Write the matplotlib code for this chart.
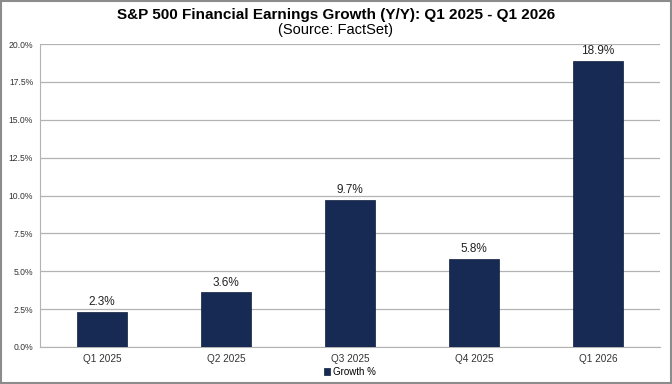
import matplotlib
matplotlib.use("Agg")
import matplotlib.pyplot as plt
from matplotlib.patches import Rectangle

categories = ["Q1 2025", "Q2 2025", "Q3 2025", "Q4 2025", "Q1 2026"]
growth = [2.3, 3.6, 9.7, 5.8, 18.9]
yticks = [0, 2.5, 5, 7.5, 10, 12.5, 15, 17.5, 20]

plt.rcParams['font.family'] = ['Liberation Sans', 'DejaVu Sans']

fig = plt.figure(figsize=(6.72, 3.84), dpi=100)
ax = fig.add_axes([40/672, 37/384, 620/672, 303/384])

bars = ax.bar(range(len(categories)), growth, width=0.4, color="#172a54",
              edgecolor="#0f1d3d", linewidth=0.5, zorder=3, label="Growth %")

for x, v in zip(range(len(categories)), growth):
    ax.text(x, v + 0.25, f"{v:.1f}%", ha="center", va="bottom", fontsize=8.5, color="#222222")

ax.set_xlim(-0.5, len(categories) - 0.5)
ax.set_ylim(0, 20)
ax.set_yticks(yticks)
ax.set_yticklabels([f"{t:.1f}%" for t in yticks], fontsize=6.2, color="#333333")
ax.set_xticks(range(len(categories)))
ax.set_xticklabels(categories, fontsize=7.2, color="#333333")
ax.tick_params(axis="both", length=0, pad=5)
ax.yaxis.grid(True, color="#b3b3b3", linewidth=0.9, zorder=0)

for side in ["top", "right"]:
    ax.spines[side].set_visible(False)
ax.spines["left"].set_color("#b3b3b3")
ax.spines["bottom"].set_color("#b3b3b3")

fig.text(0.5, 1 - 15/384, "S&P 500 Financial Earnings Growth (Y/Y): Q1 2025 - Q1 2026",
         ha="center", va="center", fontsize=11, fontweight="bold")
fig.text(0.5, 1 - 30/384, "(Source: FactSet)", ha="center", va="center", fontsize=10.5)

fig.legend(handles=[bars], labels=["Growth %"], loc="center",
           bbox_to_anchor=(350/672, 1 - 372/384), frameon=False, fontsize=7,
           handlelength=0.6, handleheight=0.6, handletextpad=0.3)

fig.patches.append(Rectangle((0.002, 0.003), 0.996, 0.994, transform=fig.transFigure,
                             fill=False, edgecolor="#8c8c8c", linewidth=1.5))

fig.savefig("out.png", dpi=100)
